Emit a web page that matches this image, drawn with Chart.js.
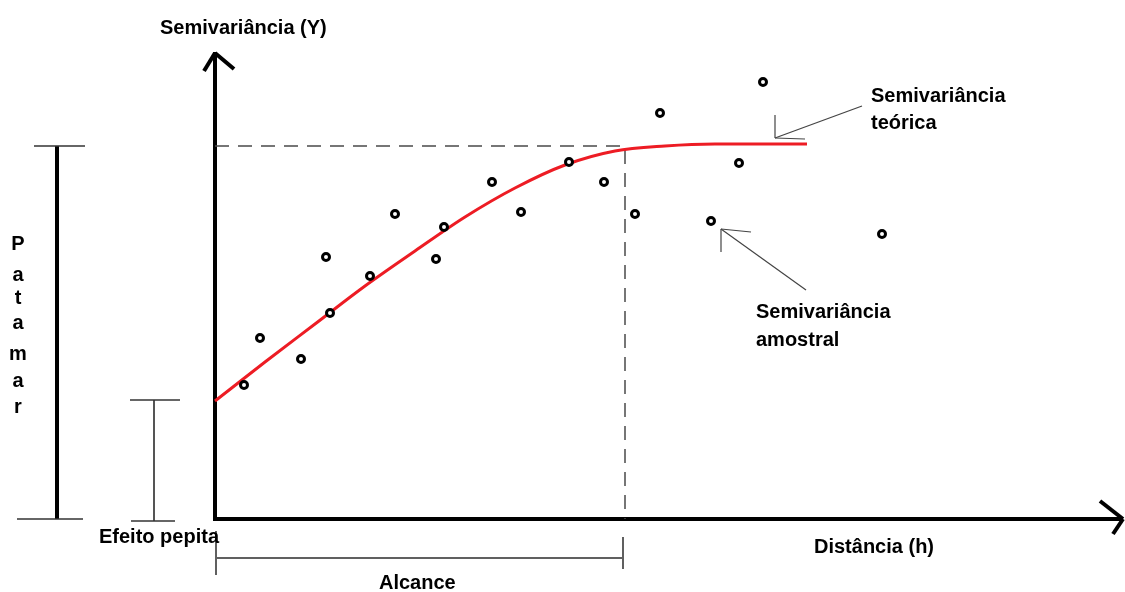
<!DOCTYPE html>
<html>
<head>
<meta charset="utf-8">
<script src="https://cdn.jsdelivr.net/npm/chart.js@4.4.1/dist/chart.umd.min.js"></script>
<style>
html,body{margin:0;padding:0;background:#fff;}
#wrap{width:1125px;height:592px;}
</style>
</head>
<body>
<div id="wrap"><canvas id="vario"></canvas></div>
<script>
// semivariancia amostral (pontos) - distancia h, gamma
const sampleH = [2.9,4.5,8.6,11.1,11.5,15.5,18.0,22.1,22.9,27.7,30.6,35.4,38.9,42.0,44.5,49.6,52.4,54.8,66.7];
const sampleG = [13.4,18.1,16.0,26.2,20.6,24.3,30.5,26.0,29.2,33.7,30.7,35.7,33.7,30.5,40.6,29.8,35.6,43.7,28.5];

// semivariancia teorica (curva)
const modelH = [0,5,10,15,20,25,30,35,40,45,50,55,59.2];
const modelG = [11.8,15.7,19.5,23.3,26.8,30.2,33.1,35.4,36.8,37.3,37.5,37.5,37.5];

// parametros marcados
const nugget = 11.9;   // efeito pepita
const sill = 37.3;     // patamar
const range = 41.0;    // alcance

const toXY = (xs, ys) => xs.map((x, i) => ({x: x, y: ys[i]}));

const FONT = "bold 20px 'Liberation Sans', Arial, sans-serif";

function line(ctx, x1, y1, x2, y2, w, col){
ctx.beginPath();
ctx.lineWidth = w;
ctx.strokeStyle = col;
ctx.moveTo(x1, y1);
ctx.lineTo(x2, y2);
ctx.stroke();
}

const axesPlugin = {
id: "axes",
beforeDatasetsDraw(chart){
const ctx = chart.ctx;
const xs = chart.scales.x, ys = chart.scales.y;
const x0 = xs.getPixelForValue(0), y0 = ys.getPixelForValue(0);
ctx.save();
ctx.lineCap = "butt";
// eixo Y com seta
line(ctx, x0, y0 + 2, x0, 52, 4, "#000");
line(ctx, x0, 53, 204, 71, 4, "#000");
line(ctx, x0, 53, 234, 69, 4, "#000");
// eixo X com seta
line(ctx, x0 - 2, y0, 1122, y0, 4, "#000");
line(ctx, 1123, y0, 1100, 501, 4, "#000");
line(ctx, 1123, y0, 1113, 534, 4, "#000");
ctx.restore();
},
afterDraw(chart){
const ctx = chart.ctx;
const xs = chart.scales.x, ys = chart.scales.y;
const yBase = ys.getPixelForValue(0);
const ySill = ys.getPixelForValue(sill);
const yNug = ys.getPixelForValue(nugget);
const xRange = xs.getPixelForValue(range);
const xZero = xs.getPixelForValue(0);
ctx.save();

// patamar
line(ctx, 57, ySill, 57, yBase, 4, "#000");
line(ctx, 34, ySill, 85, ySill, 1.5, "#333");
line(ctx, 17, yBase, 83, yBase, 1.5, "#333");

// efeito pepita
line(ctx, 154, yNug, 154, yBase + 2, 2, "#555");
line(ctx, 130, yNug, 180, yNug, 1.5, "#333");
line(ctx, 131, yBase + 2, 175, yBase + 2, 1.5, "#333");

// alcance
line(ctx, xZero + 1, 558, xRange - 2, 558, 2, "#606060");
line(ctx, xZero + 1, 531, xZero + 1, 575, 2, "#606060");
line(ctx, xRange - 2, 537, xRange - 2, 569, 2, "#606060");

// setas das legendas
line(ctx, 862, 106, 775, 138, 1.2, "#444");
line(ctx, 775, 138, 775, 115, 1.2, "#444");
line(ctx, 775, 138, 805, 139, 1.2, "#444");
line(ctx, 806, 290, 721, 229, 1.2, "#444");
line(ctx, 721, 229, 751, 232, 1.2, "#444");
line(ctx, 721, 229, 721, 252, 1.2, "#444");

// textos
ctx.fillStyle = "#000";
ctx.font = FONT;
ctx.textAlign = "left";
ctx.textBaseline = "alphabetic";
ctx.fillText("Semivariância (Y)", 160, 34);
ctx.fillText("Efeito pepita", 99, 543);
ctx.fillText("Distância (h)", 814, 553);
ctx.fillText("Alcance", 379, 589);
ctx.fillText("Semivariância", 871, 102);
ctx.fillText("teórica", 871, 129);
ctx.fillText("Semivariância", 756, 318);
ctx.fillText("amostral", 756, 346);

ctx.textAlign = "center";
const letters = ["P","a","t","a","m","a","r"];
const base = [250,281,304,329,360,387,413];
letters.forEach((c, i) => ctx.fillText(c, 18, base[i]));
ctx.restore();
}
};

new Chart(document.getElementById("vario"), {
type: "scatter",
data: {
datasets: [
{
label: "guia",
type: "line",
data: [{x: 0, y: sill}, {x: range, y: sill}, {x: range, y: 0}],
borderColor: "#4a4a4a",
borderWidth: 1.5,
borderDash: [14, 9],
pointRadius: 0,
fill: false,
tension: 0,
clip: false,
order: 3
},
{
label: "Semivariância teórica",
type: "line",
data: toXY(modelH, modelG),
borderColor: "#ed1c24",
borderWidth: 3,
pointRadius: 0,
fill: false,
cubicInterpolationMode: "monotone",
clip: false,
order: 2
},
{
label: "Semivariância amostral",
data: toXY(sampleH, sampleG),
pointRadius: 3.5,
pointBorderWidth: 3,
pointBackgroundColor: "#fff",
pointBorderColor: "#000",
clip: false,
order: 1
}
]
},
options: {
responsive: true,
maintainAspectRatio: false,
animation: false,
events: [],
layout: {padding: {left: 215, right: 10, top: 49, bottom: 73}},
plugins: {legend: {display: false}, tooltip: {enabled: false}},
scales: {
x: {type: "linear", min: 0, max: 90, display: false},
y: {type: "linear", min: 0, max: 47, display: false}
}
},
plugins: [axesPlugin]
});
</script>
</body>
</html>
